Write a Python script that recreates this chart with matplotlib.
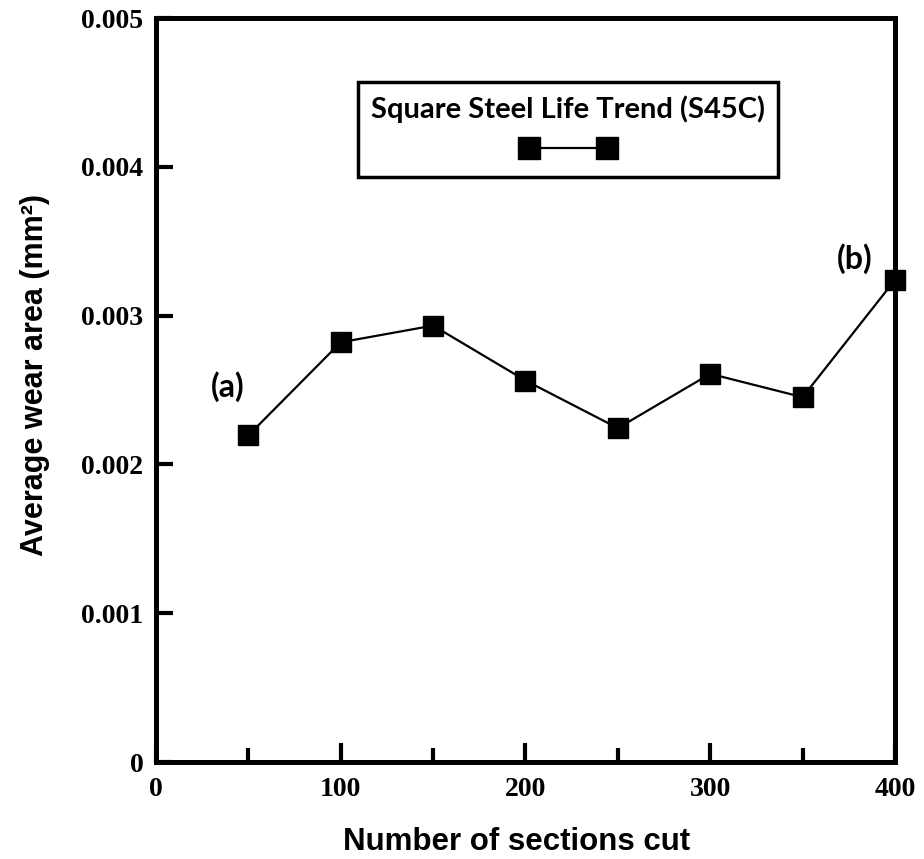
import matplotlib
matplotlib.use("Agg")
import matplotlib.pyplot as plt
from matplotlib.lines import Line2D

# data
sections = [50, 100, 150, 200, 250, 300, 350, 400]
wear_area = [0.002195, 0.002821, 0.002933, 0.002564, 0.002244, 0.002609, 0.002452, 0.003240]
x_ticks = [0, 100, 200, 300, 400]
y_ticks = [0, 0.001, 0.002, 0.003, 0.004, 0.005]
y_tick_labels = ["0", "0.001", "0.002", "0.003", "0.004", "0.005"]
series_name = "Square Steel Life Trend (S45C)"

fig = plt.figure(figsize=(9.24, 8.59), dpi=100)
ax = fig.add_axes([0.1688, 0.1129, 0.7998, 0.8661])

ax.plot(sections, wear_area, color="black", lw=1.6, marker="s",
        markersize=14, markerfacecolor="black", markeredgecolor="black",
        clip_on=False, zorder=5)

ax.set_xlim(0, 400)
ax.set_ylim(0, 0.005)

for s in ax.spines.values():
    s.set_linewidth(3.6)

ax.set_xticks(x_ticks)
ax.set_xticks([50, 150, 250, 350], minor=True)
ax.set_yticks(y_ticks)
ax.set_yticklabels(y_tick_labels)
ax.tick_params(axis="x", which="major", direction="in", length=14, width=3, pad=11,
               top=False)
ax.tick_params(axis="x", which="minor", direction="in", length=10, width=3, top=False)
ax.tick_params(axis="y", which="major", direction="in", length=12, width=3, pad=9,
               right=False)
for lbl in ax.get_xticklabels() + ax.get_yticklabels():
    lbl.set_fontfamily("Liberation Serif")
    lbl.set_fontweight("bold")
    lbl.set_fontsize(20)

ax.set_xlabel("Number of sections cut", fontfamily="Liberation Sans",
              fontweight="bold", fontsize=22.5)
ax.xaxis.set_label_coords(0.488, -0.088)
ax.set_ylabel("Average wear area (mm\u00b2)", fontfamily="Liberation Sans",
              fontweight="bold", fontsize=22)
ax.yaxis.set_label_coords(-0.143, 0.52)

# legend: title text above a two-marker handle
handle = Line2D([], [], color="black", lw=1.6, marker="s", markersize=16,
                markerfacecolor="black", markeredgecolor="black")
leg = ax.legend([handle], [""], title=series_name, numpoints=2,
                loc="upper left", bbox_to_anchor=(0.2733, 0.914), borderaxespad=0,
                fontsize=21, handlelength=3.25, handletextpad=0, borderpad=0.45,
                labelspacing=0.45, fancybox=False, framealpha=1, edgecolor="black",
                title_fontproperties={"family": "Lato", "weight": "bold", "size": 21})
leg.get_frame().set_linewidth(2.5)

ax.text(39, 0.00252, "(a)", fontfamily="Lato", fontweight="bold", fontsize=23,
        ha="center", va="center")
ax.text(378, 0.00338, "(b)", fontfamily="Lato", fontweight="bold", fontsize=23,
        ha="center", va="center")

fig.savefig("out.png", dpi=100)
